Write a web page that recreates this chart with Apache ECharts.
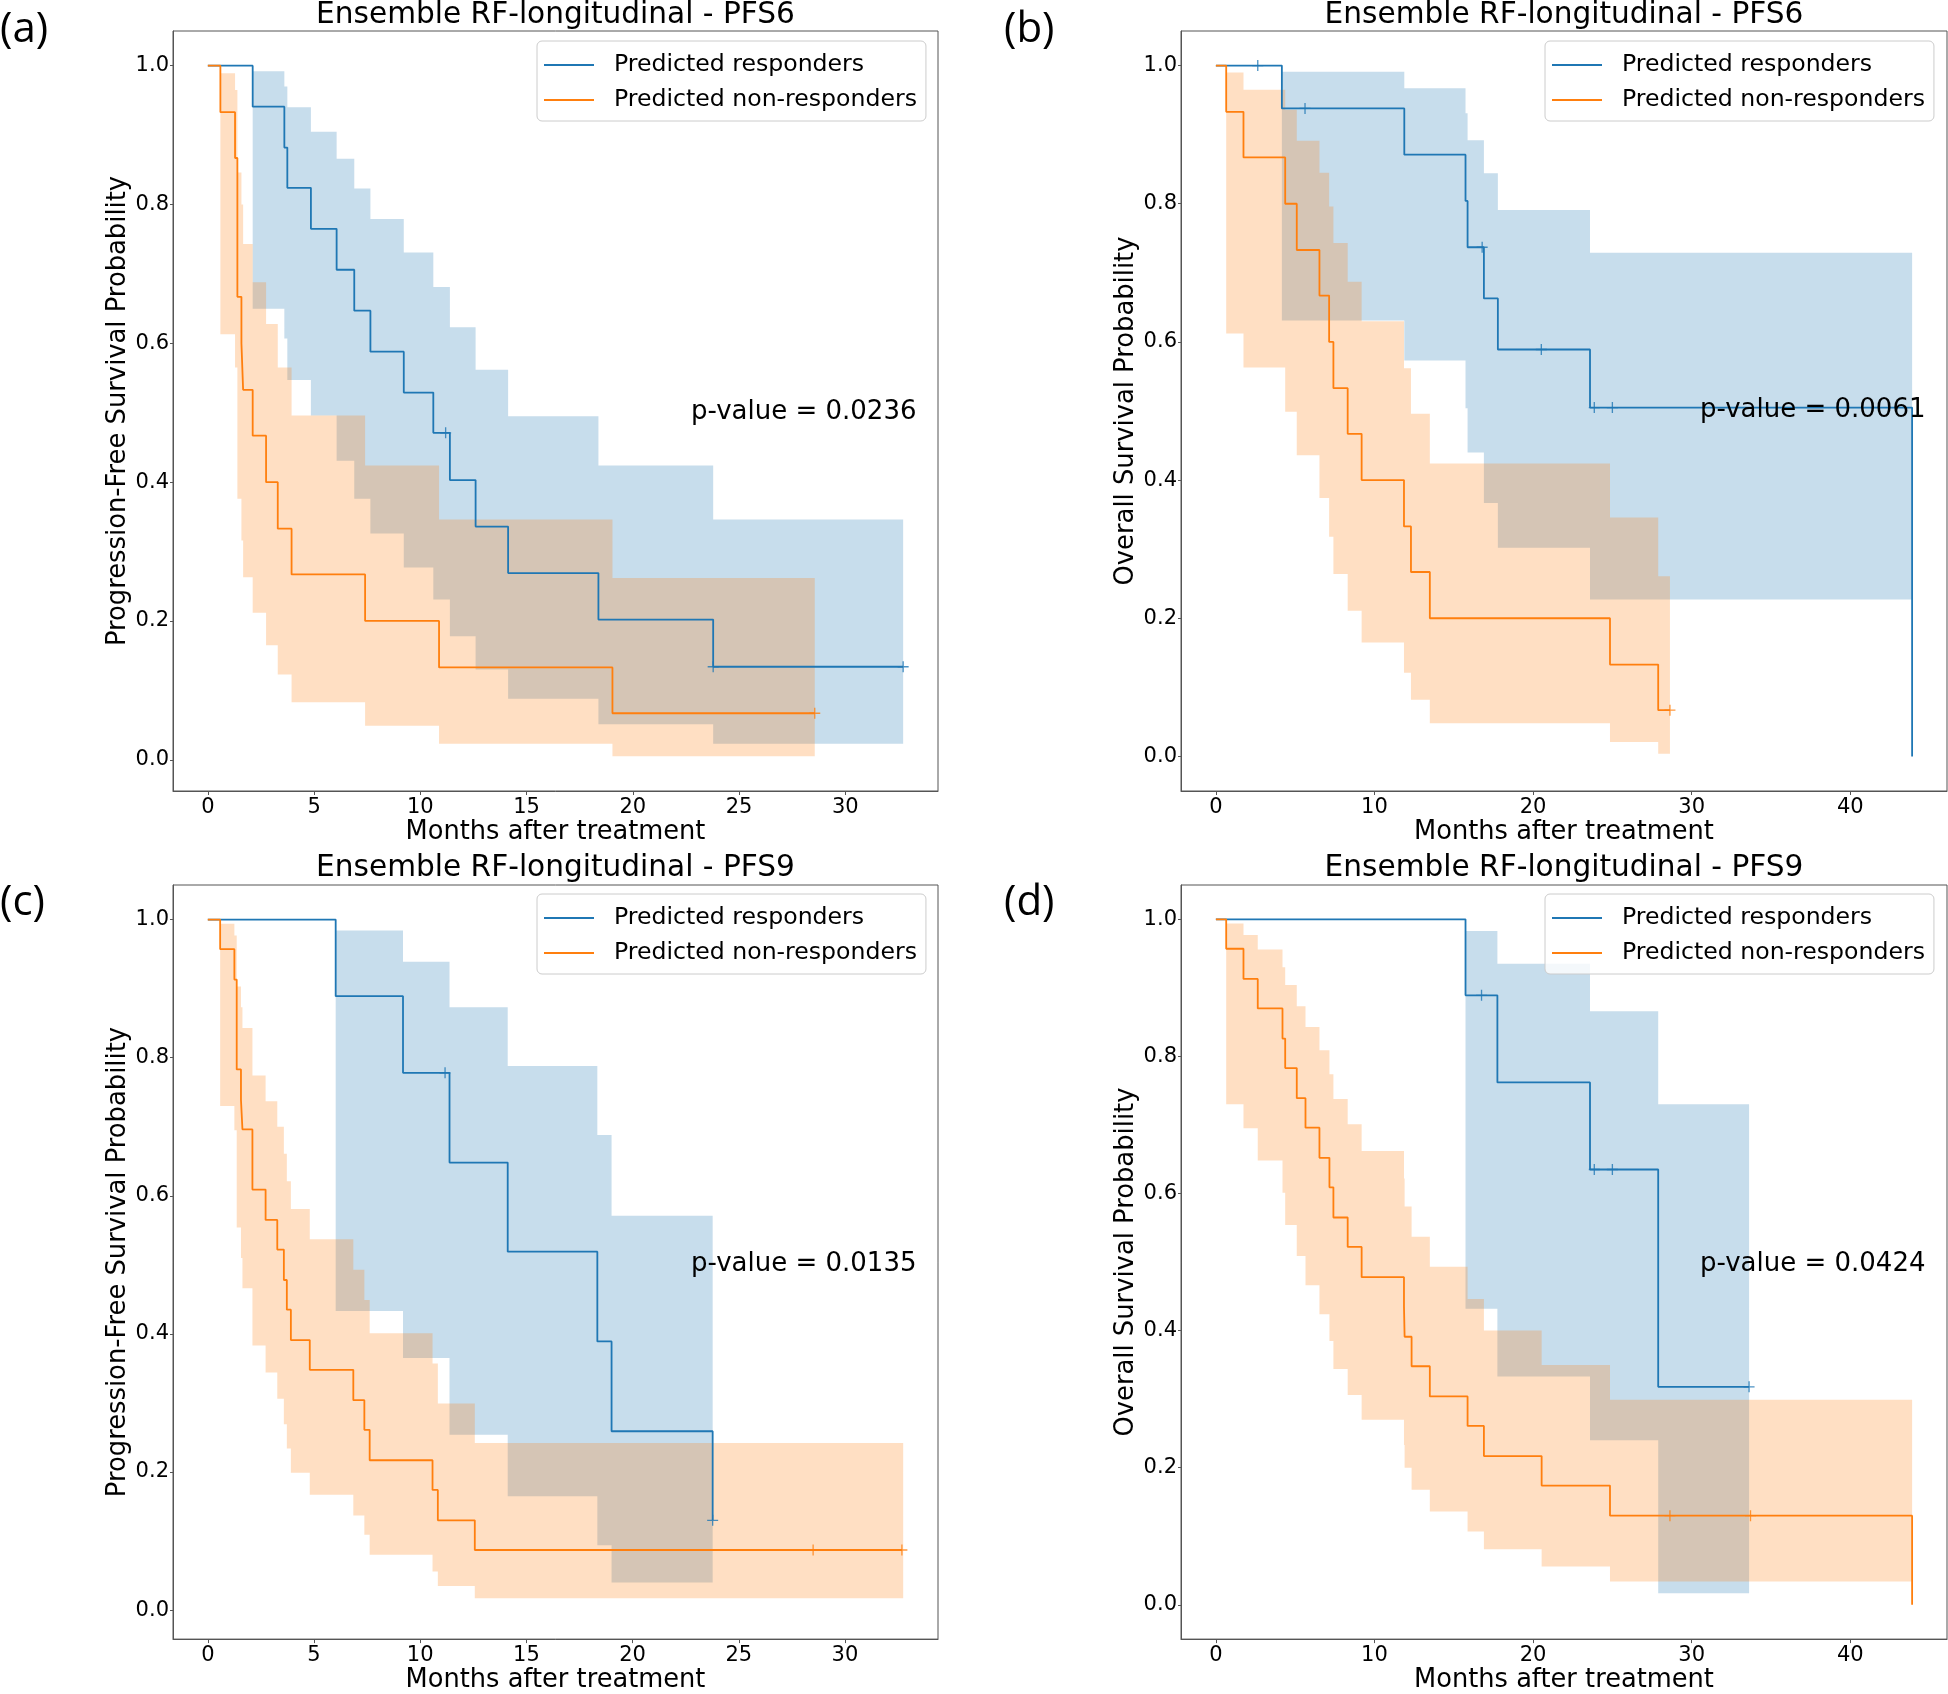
<!DOCTYPE html>
<html>
<head>
<meta charset="utf-8">
<script src="https://cdn.jsdelivr.net/npm/echarts@6.0.0/dist/echarts.min.js"></script>
<style>html,body{margin:0;padding:0;background:#fff;}#chart{width:1948px;height:1694px;}</style>
</head>
<body>
<div id="chart"></div>
<script>
// ---------- Tick labels ----------
const xTicks30 = [0, 5, 10, 15, 20, 25, 30];
const xTicks40 = [0, 10, 20, 30, 40];
const yTicks = [0, 0.2, 0.4, 0.6, 0.8, 1.0];
const legendNames = ['Predicted responders', 'Predicted non-responders'];
const titles = ['Ensemble RF-longitudinal - PFS6', 'Ensemble RF-longitudinal - PFS6', 'Ensemble RF-longitudinal - PFS9', 'Ensemble RF-longitudinal - PFS9'];
const yNames = ['Progression-Free Survival Probability', 'Overall Survival Probability', 'Progression-Free Survival Probability', 'Overall Survival Probability'];
const xName = 'Months after treatment';
const pValues = ['p-value = 0.0236', 'p-value = 0.0061', 'p-value = 0.0135', 'p-value = 0.0424'];
const panelLetters = ['(a)', '(b)', '(c)', '(d)'];

// ---------- Panel (a) ----------
const aRespT = [0, 2.11, 3.6, 3.74, 4.85, 6.06, 6.89, 7.65, 9.22, 10.61, 11.39, 12.6, 14.13, 18.38, 23.78, 32.72];
const aRespS = [1, 0.941, 0.882, 0.824, 0.765, 0.706, 0.647, 0.588, 0.529, 0.471, 0.403, 0.336, 0.269, 0.202, 0.134, 0.134];
const aRespBandT = [2.11, 3.6, 3.74, 4.85, 6.06, 6.89, 7.65, 9.22, 10.61, 11.39, 12.6, 14.13, 18.38, 23.78, 32.72];
const aRespHi = [0.992, 0.970, 0.940, 0.905, 0.866, 0.823, 0.779, 0.731, 0.681, 0.623, 0.562, 0.495, 0.424, 0.346, 0.346];
const aRespLo = [0.650, 0.607, 0.547, 0.496, 0.431, 0.376, 0.326, 0.277, 0.231, 0.178, 0.130, 0.088, 0.051, 0.023, 0.023];
const aRespCT = [11.19, 23.78, 32.72];
const aRespCS = [0.471, 0.134, 0.134];
const aNonT = [0, 0.59, 1.28, 1.39, 1.58, 1.66, 2.11, 2.74, 3.29, 3.94, 7.40, 10.88, 19.04, 28.56];
const aNonS = [1, 0.933, 0.867, 0.667, 0.6, 0.533, 0.467, 0.4, 0.333, 0.267, 0.2, 0.133, 0.067, 0.067];
const aNonBandT = [0.59, 1.28, 1.39, 1.58, 1.66, 2.11, 2.74, 3.29, 3.94, 7.40, 10.88, 19.04, 28.56];
const aNonHi = [0.989, 0.965, 0.846, 0.800, 0.743, 0.688, 0.628, 0.565, 0.496, 0.424, 0.346, 0.262, 0.262];
const aNonLo = [0.613, 0.565, 0.376, 0.316, 0.263, 0.212, 0.165, 0.123, 0.083, 0.049, 0.023, 0.005, 0.005];
const aNonCT = [28.56];
const aNonCS = [0.067];

// ---------- Panel (b) ----------
const bRespT = [0, 4.16, 11.88, 15.74, 15.87, 16.9, 17.78, 23.59, 43.9, 43.9];
const bRespS = [1, 0.938, 0.871, 0.804, 0.737, 0.663, 0.589, 0.505, 0.505, 0];
const bRespBandT = [4.16, 11.88, 15.74, 15.87, 16.9, 17.78, 23.59, 43.9];
const bRespHi = [0.991, 0.967, 0.931, 0.892, 0.844, 0.791, 0.729, 0.729];
const bRespLo = [0.631, 0.573, 0.504, 0.440, 0.367, 0.302, 0.227, 0.227];
const bRespCT = [2.64, 5.62, 16.79, 20.52, 23.86, 25.0];
const bRespCS = [1, 0.938, 0.737, 0.589, 0.505, 0.505];
const bNonT = [0, 0.65, 1.74, 4.37, 5.1, 6.53, 7.14, 7.41, 8.31, 9.19, 11.86, 12.3, 13.49, 24.85, 27.89, 28.63];
const bNonS = [1, 0.933, 0.867, 0.8, 0.733, 0.667, 0.6, 0.533, 0.467, 0.4, 0.333, 0.267, 0.2, 0.133, 0.067, 0.067];
const bNonBandT = [0.65, 1.74, 4.37, 5.1, 6.53, 7.14, 7.41, 8.31, 9.19, 11.86, 12.3, 13.49, 24.85, 27.89, 28.63];
const bNonHi = [0.990, 0.965, 0.936, 0.891, 0.845, 0.796, 0.743, 0.687, 0.630, 0.562, 0.496, 0.424, 0.346, 0.261, 0.261];
const bNonLo = [0.612, 0.563, 0.499, 0.436, 0.374, 0.318, 0.264, 0.211, 0.165, 0.121, 0.082, 0.048, 0.021, 0.004, 0.004];
const bNonCT = [28.63];
const bNonCS = [0.067];

// ---------- Panel (c) ----------
const cRespT = [0, 6.02, 9.19, 11.38, 14.12, 18.34, 19.01, 23.77];
const cRespS = [1, 0.889, 0.778, 0.648, 0.519, 0.389, 0.259, 0.13];
const cRespBandT = [6.02, 9.19, 11.38, 14.12, 18.34, 19.01, 23.77];
const cRespHi = [0.984, 0.939, 0.873, 0.788, 0.688, 0.571, 0.571];
const cRespLo = [0.433, 0.365, 0.254, 0.165, 0.094, 0.040, 0.040];
const cRespCT = [11.17, 23.77];
const cRespCS = [0.778, 0.13];
const cNonT = [0, 0.58, 1.25, 1.36, 1.56, 1.63, 2.10, 2.72, 3.27, 3.58, 3.72, 3.91, 4.80, 6.85, 7.37, 7.62, 10.58, 10.83, 12.57, 32.68];
const cNonS = [1, 0.957, 0.913, 0.783, 0.739, 0.696, 0.609, 0.565, 0.522, 0.478, 0.435, 0.391, 0.348, 0.304, 0.261, 0.217, 0.174, 0.130, 0.087, 0.087];
const cNonBandT = [0.58, 1.25, 1.36, 1.56, 1.63, 2.10, 2.72, 3.27, 3.58, 3.72, 3.91, 4.80, 6.85, 7.37, 7.62, 10.58, 10.83, 12.57, 32.74];
const cNonHi = [0.994, 0.977, 0.903, 0.873, 0.843, 0.774, 0.737, 0.700, 0.661, 0.621, 0.581, 0.537, 0.493, 0.449, 0.401, 0.357, 0.299, 0.242, 0.242];
const cNonLo = [0.730, 0.695, 0.554, 0.510, 0.466, 0.383, 0.344, 0.306, 0.269, 0.234, 0.199, 0.167, 0.137, 0.109, 0.080, 0.056, 0.035, 0.017, 0.017];
const cNonCT = [28.5, 32.68];
const cNonCS = [0.087, 0.087];

// ---------- Panel (d) ----------
const dRespT = [0, 15.74, 17.75, 23.59, 27.89, 33.62];
const dRespS = [1, 0.889, 0.762, 0.635, 0.318, 0.318];
const dRespBandT = [15.74, 17.75, 23.59, 27.89, 33.62];
const dRespHi = [0.983, 0.935, 0.866, 0.730, 0.730];
const dRespLo = [0.432, 0.333, 0.240, 0.017, 0.017];
const dRespCT = [16.75, 23.86, 25.0, 33.62];
const dRespCS = [0.889, 0.635, 0.635, 0.318];
const dNonT = [0, 0.65, 1.74, 2.64, 4.2, 4.37, 5.1, 5.65, 6.53, 7.16, 7.41, 8.31, 9.19, 11.86, 11.9, 12.34, 13.49, 15.87, 16.9, 20.54, 24.85, 43.9, 43.9];
const dNonS = [1, 0.957, 0.913, 0.870, 0.826, 0.783, 0.739, 0.696, 0.652, 0.609, 0.565, 0.522, 0.478, 0.435, 0.391, 0.348, 0.304, 0.261, 0.217, 0.174, 0.130, 0.130, 0];
const dNonBandT = [0.65, 1.74, 2.64, 4.2, 4.37, 5.1, 5.65, 6.53, 7.16, 7.41, 8.31, 9.19, 11.86, 11.9, 12.34, 13.49, 15.87, 16.9, 20.54, 24.85, 43.9];
const dNonHi = [0.994, 0.977, 0.956, 0.930, 0.904, 0.873, 0.843, 0.809, 0.774, 0.738, 0.701, 0.662, 0.622, 0.581, 0.537, 0.493, 0.446, 0.400, 0.350, 0.299, 0.299];
const dNonLo = [0.730, 0.695, 0.648, 0.601, 0.554, 0.509, 0.466, 0.424, 0.385, 0.344, 0.306, 0.270, 0.233, 0.200, 0.168, 0.136, 0.107, 0.081, 0.056, 0.034, 0.034];
const dNonCT = [28.63, 33.71];
const dNonCS = [0.130, 0.130];

// ---------- Styling / layout ----------
const FONT = 'DejaVu Sans';
const BLUE = '#1f77b4';
const ORANGE = '#ff7f0e';
const BLUE_FILL = 'rgba(31,119,180,0.25)';
const ORANGE_FILL = 'rgba(255,127,14,0.25)';
const AXIS_COLOR = '#555';

const layout = [
  { left: 173, top: 31, width: 765, height: 760, xmin: -1.64, xmax: 34.36, ymin: -0.045, ymax: 1.05, xt: xTicks30, legL: 537, legT: 41, pX: 691, pY: 412, letX: 0, letY: 30, tY: 15 },
  { left: 1181, top: 31, width: 766, height: 760, xmin: -2.2, xmax: 46.1, ymin: -0.05, ymax: 1.05, xt: xTicks40, legL: 1545, legT: 41, pX: 1700, pY: 410, letX: 1004, letY: 30, tY: 15 },
  { left: 173, top: 885, width: 765, height: 761, xmin: -1.64, xmax: 34.38, ymin: -0.042, ymax: 1.05, xt: xTicks30, legL: 537, legT: 894, pX: 691, pY: 1264, letX: 0, letY: 903, tY: 868 },
  { left: 1181, top: 885, width: 766, height: 761, xmin: -2.2, xmax: 46.1, ymin: -0.05, ymax: 1.05, xt: xTicks40, legL: 1545, legT: 894, pX: 1700, pY: 1264, letX: 1004, letY: 903, tY: 868 }
];

const panelData = [
  { rT: aRespT, rS: aRespS, rBT: aRespBandT, rHi: aRespHi, rLo: aRespLo, rCT: aRespCT, rCS: aRespCS,
    nT: aNonT, nS: aNonS, nBT: aNonBandT, nHi: aNonHi, nLo: aNonLo, nCT: aNonCT, nCS: aNonCS },
  { rT: bRespT, rS: bRespS, rBT: bRespBandT, rHi: bRespHi, rLo: bRespLo, rCT: bRespCT, rCS: bRespCS,
    nT: bNonT, nS: bNonS, nBT: bNonBandT, nHi: bNonHi, nLo: bNonLo, nCT: bNonCT, nCS: bNonCS },
  { rT: cRespT, rS: cRespS, rBT: cRespBandT, rHi: cRespHi, rLo: cRespLo, rCT: cRespCT, rCS: cRespCS,
    nT: cNonT, nS: cNonS, nBT: cNonBandT, nHi: cNonHi, nLo: cNonLo, nCT: cNonCT, nCS: cNonCS },
  { rT: dRespT, rS: dRespS, rBT: dRespBandT, rHi: dRespHi, rLo: dRespLo, rCT: dRespCT, rCS: dRespCS,
    nT: dNonT, nS: dNonS, nBT: dNonBandT, nHi: dNonHi, nLo: dNonLo, nCT: dNonCT, nCS: dNonCS }
];

const PLUS = 'path://M4.4,0h1.2v4.4h4.4v1.2h-4.4v4.4h-1.2v-4.4h-4.4v-1.2h4.4z';

function bandSeries(idx, T, lo, hi, fill) {
  return {
    type: 'custom', xAxisIndex: idx, yAxisIndex: idx, silent: true, clip: true,
    encode: { x: 0, y: [1, 2] },
    data: T.map((t, i) => [t, lo[i], hi[i]]),
    renderItem: function (params, api) {
      if (params.dataIndex !== 0) return null;
      const pts = [];
      for (let i = 0; i < T.length - 1; i++) {
        pts.push(api.coord([T[i], hi[i]]));
        pts.push(api.coord([T[i + 1], hi[i]]));
      }
      for (let i = T.length - 2; i >= 0; i--) {
        pts.push(api.coord([T[i + 1], lo[i]]));
        pts.push(api.coord([T[i], lo[i]]));
      }
      return { type: 'polygon', shape: { points: pts }, style: { fill: fill, stroke: null } };
    }
  };
}
function lineSeries(idx, name, T, S, color) {
  return {
    type: 'line', name: name, xAxisIndex: idx, yAxisIndex: idx, step: 'end',
    showSymbol: false, symbol: 'none', clip: true,
    data: T.map((t, i) => [t, S[i]]),
    itemStyle: { color: color }, lineStyle: { color: color, width: 1.8 }
  };
}
function censorSeries(idx, T, S, color) {
  return {
    type: 'scatter', name: 'censor', xAxisIndex: idx, yAxisIndex: idx, silent: true,
    symbol: PLUS, symbolSize: 11,
    data: T.map((t, i) => [t, S[i]]),
    itemStyle: { color: color }
  };
}

const grids = [], xAxes = [], yAxes = [], series = [], legends = [], graphics = [];
layout.forEach((L, i) => {
  const D = panelData[i];
  grids.push({ left: L.left, top: L.top, width: L.width, height: L.height, show: true,
    borderColor: AXIS_COLOR, borderWidth: 1, backgroundColor: 'transparent', containLabel: false });
  xAxes.push({
    gridIndex: i, type: 'value', min: L.xmin, max: L.xmax,
    name: xName, nameLocation: 'middle', nameGap: 27,
    nameTextStyle: { fontFamily: FONT, fontSize: 25.7, color: '#000' },
    axisLine: { show: true, onZero: false, lineStyle: { color: AXIS_COLOR, width: 1 } },
    axisTick: { show: true, length: 4, customValues: L.xt, lineStyle: { color: AXIS_COLOR } },
    axisLabel: { customValues: L.xt, fontFamily: FONT, fontSize: 21, color: '#000', margin: 6, formatter: v => String(v) },
    splitLine: { show: false }
  });
  yAxes.push({
    gridIndex: i, type: 'value', min: L.ymin, max: L.ymax,
    name: yNames[i], nameLocation: 'middle', nameGap: 42,
    nameTextStyle: { fontFamily: FONT, fontSize: 25.8, color: '#000' },
    axisLine: { show: true, onZero: false, lineStyle: { color: AXIS_COLOR, width: 1 } },
    axisTick: { show: true, length: 3, customValues: yTicks, lineStyle: { color: AXIS_COLOR } },
    axisLabel: { customValues: yTicks, fontFamily: FONT, fontSize: 21, color: '#000', margin: 4, formatter: v => Number(v).toFixed(1) },
    splitLine: { show: false }
  });
  series.push(bandSeries(i, D.rBT, D.rLo, D.rHi, BLUE_FILL));
  series.push(lineSeries(i, legendNames[0], D.rT, D.rS, BLUE));
  series.push(censorSeries(i, D.rCT, D.rCS, BLUE));
  series.push(bandSeries(i, D.nBT, D.nLo, D.nHi, ORANGE_FILL));
  series.push(lineSeries(i, legendNames[1], D.nT, D.nS, ORANGE));
  series.push(censorSeries(i, D.nCT, D.nCS, ORANGE));
  legends.push({
    data: legendNames, orient: 'vertical', left: L.legL, top: L.legT,
    padding: [12, 9, 9, 7], itemGap: 11, itemWidth: 50, itemHeight: 2, icon: 'rect',
    selectedMode: false,
    textStyle: { fontFamily: FONT, fontSize: 23.6, color: '#000', padding: [0, 0, 0, 15] },
    borderColor: '#cccccc', borderWidth: 1, borderRadius: 5, backgroundColor: 'rgba(255,255,255,0.8)'
  });
  graphics.push({ type: 'text', z: 100, x: L.left + L.width / 2, y: L.tY,
    style: { text: titles[i], fontFamily: FONT, fontSize: 29.6, fill: '#000', align: 'center', verticalAlign: 'middle' } });
  graphics.push({ type: 'text', z: 100, x: L.pX, y: L.pY,
    style: { text: pValues[i], fontFamily: FONT, fontSize: 26, fill: '#000', align: 'left', verticalAlign: 'middle' } });
  graphics.push({ type: 'text', z: 100, x: L.letX, y: L.letY,
    style: { text: panelLetters[i], fontFamily: 'Open Sans', fontSize: 42, fill: '#000', align: 'left', verticalAlign: 'middle' } });
});

const chart = echarts.init(document.getElementById('chart'), null, { renderer: 'canvas' });
chart.setOption({
  animation: false,
  backgroundColor: '#ffffff',
  grid: grids, xAxis: xAxes, yAxis: yAxes, series: series, legend: legends,
  graphic: { elements: graphics }
});
</script>
</body>
</html>
